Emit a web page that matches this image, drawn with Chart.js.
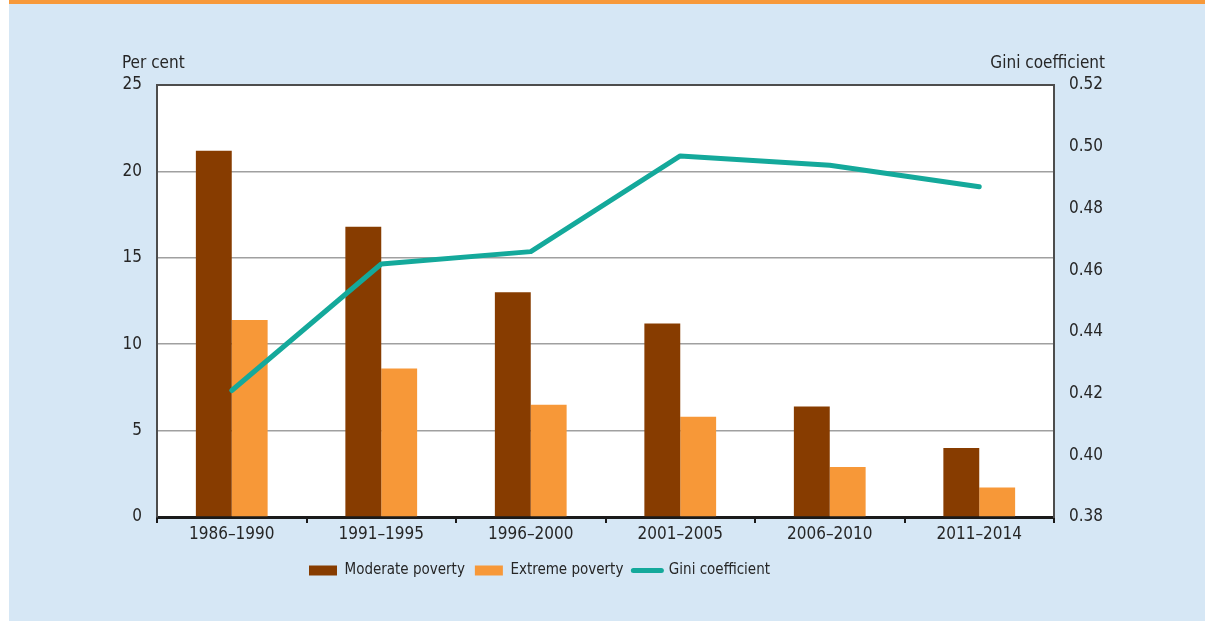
<!DOCTYPE html>
<html>
<head>
<meta charset="utf-8">
<script src="https://cdn.jsdelivr.net/npm/chart.js@4.4.1/dist/chart.umd.min.js"></script>
<style>
  html, body { margin: 0; padding: 0; background: #ffffff; }
  #wrap { width: 1205px; height: 621px; }
</style>
</head>
<body>
<div id="wrap"><canvas id="povertyChart" width="1205" height="621"></canvas></div>
<script>
var categories = ['1986–1990', '1991–1995', '1996–2000', '2001–2005', '2006–2010', '2011–2014'];
var moderatePoverty = [21.2, 16.8, 13.0, 11.2, 6.4, 4.0];
var extremePoverty = [11.4, 8.6, 6.5, 5.8, 2.9, 1.7];
var giniCoefficient = [0.421, 0.462, 0.466, 0.497, 0.494, 0.487];
var leftTicks = [0, 5, 10, 15, 20, 25];
var rightTicks = [0.38, 0.40, 0.42, 0.44, 0.46, 0.48, 0.50, 0.52];

var fontName = '"Liberation Sans Narrow", "DejaVu Sans Condensed", "Liberation Sans", Arial, sans-serif';
var textColor = '#262626';

// backgrounds, plot frame and the two axis titles
var framePlugin = {
    id: 'frame',
    afterLayout: function (chart) {
        // legend in the original sits a bit left of centre
        var lg = chart.legend;
        if (lg) {
            lg.right -= 126;
            lg.width -= 126;
        }
    },
    beforeDraw: function (chart) {
        var ctx = chart.ctx, a = chart.chartArea;
        ctx.save();
        ctx.fillStyle = '#ffffff';
        ctx.fillRect(0, 0, chart.width, chart.height);
        ctx.fillStyle = '#d6e7f5';
        ctx.fillRect(9, 0, chart.width - 9, chart.height);
        ctx.fillStyle = '#f7993a';
        ctx.fillRect(9, 0, chart.width - 9, 4);
        ctx.fillStyle = '#ffffff';
        ctx.fillRect(a.left, a.top, a.right - a.left, a.bottom - a.top);
        ctx.restore();
    },
    afterDraw: function (chart) {
        var ctx = chart.ctx, a = chart.chartArea;
        ctx.save();
        ctx.strokeStyle = '#4d4d4d';
        ctx.lineWidth = 2;
        ctx.beginPath();
        ctx.moveTo(a.left, a.top);
        ctx.lineTo(a.right, a.top);
        ctx.stroke();
        ctx.fillStyle = textColor;
        ctx.font = '17px ' + fontName;
        ctx.textBaseline = 'alphabetic';
        ctx.textAlign = 'left';
        ctx.fillText('Per cent', 122, 68);
        ctx.textAlign = 'right';
        ctx.fillText('Gini coefficient', 1105, 68);
        ctx.restore();
    }
};

var ctx = document.getElementById('povertyChart').getContext('2d');

new Chart(ctx, {
    type: 'bar',
    data: {
        labels: categories,
        datasets: [
            {
                type: 'line',
                label: 'Gini coefficient',
                data: giniCoefficient,
                yAxisID: 'yRight',
                borderColor: '#14a99b',
                backgroundColor: '#14a99b',
                borderWidth: 5,
                borderCapStyle: 'round',
                borderJoinStyle: 'round',
                pointRadius: 0,
                tension: 0,
                order: 0
            },
            {
                label: 'Moderate poverty',
                data: moderatePoverty,
                yAxisID: 'yLeft',
                backgroundColor: '#873c00',
                borderWidth: 0,
                order: 1
            },
            {
                label: 'Extreme poverty',
                data: extremePoverty,
                yAxisID: 'yLeft',
                backgroundColor: '#f79838',
                borderWidth: 0,
                order: 1
            }
        ]
    },
    options: {
        responsive: false,
        animation: false,
        devicePixelRatio: 1,
        layout: { padding: { top: 85, right: 0, bottom: 33, left: 0 } },
        datasets: {
            bar: { categoryPercentage: 0.48, barPercentage: 1.0 }
        },
        plugins: {
            tooltip: { enabled: false },
            legend: {
                position: 'bottom',
                labels: {
                    color: textColor,
                    font: { family: fontName, size: 15 },
                    usePointStyle: true,
                    pointStyleWidth: 28,
                    boxHeight: 10,
                    padding: 10,
                    sort: function (a, b) {
                        var want = ['Moderate poverty', 'Extreme poverty', 'Gini coefficient'];
                        return want.indexOf(a.text) - want.indexOf(b.text);
                    },
                    generateLabels: function (chart) {
                        var items = Chart.defaults.plugins.legend.labels.generateLabels(chart);
                        items.forEach(function (it) {
                            if (it.text === 'Gini coefficient') {
                                it.pointStyle = 'line';
                                it.lineWidth = 5;
                                it.lineCap = 'round';
                                it.strokeStyle = '#14a99b';
                            } else {
                                it.pointStyle = 'rect';
                                it.lineWidth = 0;
                            }
                        });
                        return items;
                    }
                }
            }
        },
        scales: {
            x: {
                offset: true,
                grid: {
                    offset: true,
                    drawOnChartArea: false,
                    drawTicks: true,
                    tickLength: 6,
                    color: '#1a1a1a',
                    lineWidth: 2
                },
                border: { display: true, color: '#1a1a1a', width: 3 },
                ticks: {
                    color: textColor,
                    font: { family: fontName, size: 17 },
                    padding: 1,
                    maxRotation: 0
                },
                afterFit: function (scale) { scale.height = 36; }
            },
            yLeft: {
                position: 'left',
                min: 0,
                max: 25,
                afterBuildTicks: function (scale) {
                    scale.ticks = leftTicks.map(function (v) { return { value: v }; });
                },
                grid: { color: '#a0a0a0', lineWidth: 1.5, drawTicks: false },
                border: { display: true, color: '#4d4d4d', width: 2 },
                ticks: {
                    color: textColor,
                    font: { family: fontName, size: 17 },
                    padding: 15
                },
                afterFit: function (scale) { scale.width = 157; }
            },
            yRight: {
                position: 'right',
                min: 0.38,
                max: 0.52,
                afterBuildTicks: function (scale) {
                    scale.ticks = rightTicks.map(function (v) { return { value: v }; });
                },
                grid: { drawOnChartArea: false, drawTicks: false },
                border: { display: true, color: '#4d4d4d', width: 2 },
                ticks: {
                    color: textColor,
                    font: { family: fontName, size: 17 },
                    padding: 15,
                    callback: function (v) { return Number(v).toFixed(2); }
                },
                afterFit: function (scale) { scale.width = 151; }
            }
        }
    },
    plugins: [framePlugin]
});
</script>
</body>
</html>
